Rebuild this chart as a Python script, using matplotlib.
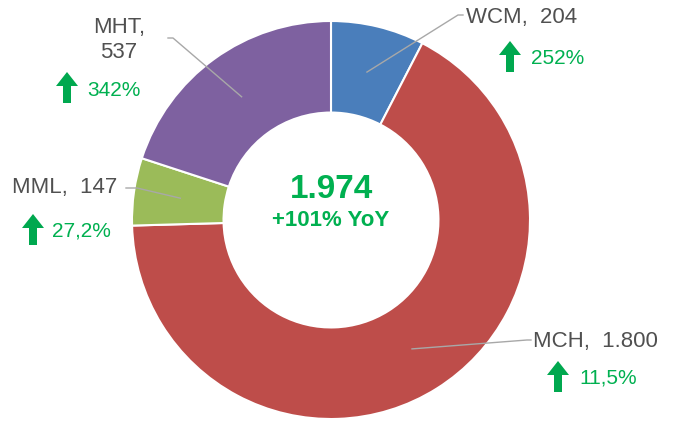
import numpy as np
import matplotlib.pyplot as plt
from matplotlib.patches import FancyArrow

plt.rcParams['font.family'] = ['Liberation Sans', 'DejaVu Sans']

# data
names = ['WCM', 'MCH', 'MML', 'MHT']
values = [204, 1800, 147, 537]
value_labels = ['204', '1.800', '147', '537']
growth = ['252%', '11,5%', '27,2%', '342%']
total_label = '1.974'
yoy_label = '+101% YoY'
colors = ['#4a7ebb', '#be4d4a', '#9bbb59', '#7e61a0']

H = 424
def Y(y):
    return H - y

green = '#00b050'
grey_txt = '#505050'
line_c = '#a8a8a8'

fig = plt.figure(figsize=(6.73, 4.24), dpi=100)
ax = fig.add_axes([0, 0, 1, 1])

cx, cy, R = 331, Y(220), 199
wedges, _ = ax.pie(values, colors=colors, startangle=90, counterclock=False,
                   radius=R, center=(cx, cy),
                   wedgeprops=dict(width=R * 0.46, edgecolor='white', linewidth=1.5))
ax.set_xlim(0, 673)
ax.set_ylim(0, H)
ax.set_aspect('equal')
ax.axis('off')

# label layout (image pixel coords)
elbow = [(458, 15), (527, 340), (137, 188), (173, 38)]
line_end = [(463, 15), (531, 340), (126, 188), (168, 38)]
arrow_pos = [(510, 72), (558, 392), (33, 245), (67, 103)]
pct_pos = [(531, 58), (579, 378), (52, 231), (87, 90)]

for i, w in enumerate(wedges):
    mid = np.deg2rad((w.theta1 + w.theta2) / 2)
    sx = cx + 0.765 * R * np.cos(mid)
    sy = cy + 0.765 * R * np.sin(mid)
    ex, ey = elbow[i]
    lx, ly = line_end[i]
    ax.plot([sx, ex, lx], [sy, Y(ey), Y(ly)], color=line_c, lw=1)

    ax_, ay_ = arrow_pos[i]
    ax.add_patch(FancyArrow(ax_, Y(ay_), 0, 31, width=8, head_width=22,
                            head_length=14, length_includes_head=True,
                            color='#00a84f', lw=0))
    px, py = pct_pos[i]
    ax.text(px, Y(py), growth[i], color=green, fontsize=15, ha='left', va='center')

# category labels
ax.text(466, Y(17), names[0] + ',  ' + value_labels[0], color=grey_txt, fontsize=16,
        ha='left', va='center')
ax.text(533, Y(342), names[1] + ',  ' + value_labels[1], color=grey_txt, fontsize=16,
        ha='left', va='center')
ax.text(12, Y(187), names[2] + ',  ' + value_labels[2], color=grey_txt, fontsize=16,
        ha='left', va='center')
ax.text(119, Y(27), names[3] + ',', color=grey_txt, fontsize=16, ha='center', va='center')
ax.text(119, Y(53), value_labels[3], color=grey_txt, fontsize=16, ha='center', va='center')

# center
ax.text(cx, Y(190), total_label, color=green, fontsize=24, fontweight='bold',
        ha='center', va='center')
ax.text(cx, Y(221), yoy_label, color=green, fontsize=16, fontweight='bold',
        ha='center', va='center')

fig.savefig('out.png', dpi=100, facecolor='white')
